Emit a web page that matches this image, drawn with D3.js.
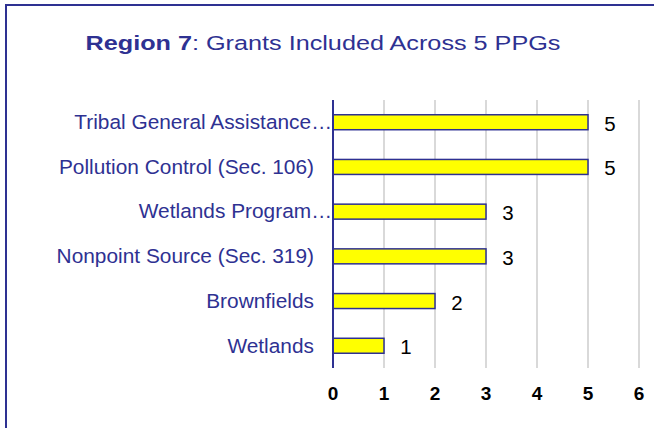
<!DOCTYPE html>
<html>
<head>
<meta charset="utf-8">
<script src="https://cdn.jsdelivr.net/npm/d3@7"></script>
<style>
  html, body { margin: 0; padding: 0; background: #fff; }
  svg { display: block; font-family: Arial, "Liberation Sans", sans-serif; }
</style>
</head>
<body>
<div id="chart"></div>
<script>
const categories = [
    'Tribal General Assistance…',
    'Pollution Control (Sec. 106)',
    'Wetlands Program…',
    'Nonpoint Source (Sec. 319)',
    'Brownfields',
    'Wetlands'
];
const values = [5, 5, 3, 3, 2, 1];
const ticks = [0, 1, 2, 3, 4, 5, 6];
const truncated = [true, false, true, false, false, false];

const width = 654, height = 428;
const navy = '#2E3192';

const svg = d3.select('#chart').append('svg')
    .attr('width', width)
    .attr('height', height);

// frame (only top and left edges visible)
svg.append('path')
    .attr('d', `M6,${height} L6,5 L${width},5`)
    .attr('fill', 'none')
    .attr('stroke', navy)
    .attr('stroke-width', 2);

// title (text looks a bit wide in the original, so stretch it)
const title = svg.append('text')
    .attr('transform', 'translate(323,50) scale(1.23,1)')
    .attr('text-anchor', 'middle')
    .attr('font-size', 20.5)
    .attr('fill', navy);
title.append('tspan').attr('font-weight', 'bold').text('Region 7');
title.append('tspan').text(': Grants Included Across 5 PPGs');

const x = d3.scaleLinear().domain([0, 6]).range([333, 639]);
const y = d3.scaleBand().domain(categories).range([100, 368]).paddingInner(0.665).paddingOuter(0.33);

// gridlines
svg.append('g').selectAll('line')
    .data(ticks.slice(1))
    .join('line')
    .attr('x1', d => x(d)).attr('x2', d => x(d))
    .attr('y1', 100).attr('y2', 368)
    .attr('stroke', '#d9d9d9')
    .attr('stroke-width', 2);

// bars
svg.append('g').selectAll('rect')
    .data(values)
    .join('rect')
    .attr('x', x(0))
    .attr('y', (d, i) => y(categories[i]))
    .attr('width', d => x(d) - x(0))
    .attr('height', y.bandwidth())
    .attr('fill', '#ffff00')
    .attr('stroke', navy)
    .attr('stroke-width', 1.5);

// value labels
svg.append('g').selectAll('text')
    .data(values)
    .join('text')
    .attr('transform', (d, i) => `translate(${x(d) + 22},${y(categories[i]) + y.bandwidth() / 2 + 8.5}) scale(1.05,1)`)
    .attr('text-anchor', 'middle')
    .attr('font-size', 19.5)
    .attr('fill', '#000')
    .text(d => d);

// y axis line
svg.append('line')
    .attr('x1', x(0)).attr('x2', x(0))
    .attr('y1', 100).attr('y2', 368)
    .attr('stroke', navy)
    .attr('stroke-width', 2);

// category labels
svg.append('g').selectAll('text')
    .data(categories)
    .join('text')
    .attr('transform', (d, i) => `translate(${truncated[i] ? 332 : 314},${y(d) + y.bandwidth() / 2 + 6.8}) scale(1.07,1)`)
    .attr('text-anchor', 'end')
    .attr('font-size', 19.5)
    .attr('fill', navy)
    .text(d => d);

// x tick labels
svg.append('g').selectAll('text')
    .data(ticks)
    .join('text')
    .attr('x', d => x(d))
    .attr('y', 400)
    .attr('text-anchor', 'middle')
    .attr('font-size', 19)
    .attr('font-weight', 'bold')
    .attr('fill', '#000')
    .text(d => d);
</script>
</body>
</html>
